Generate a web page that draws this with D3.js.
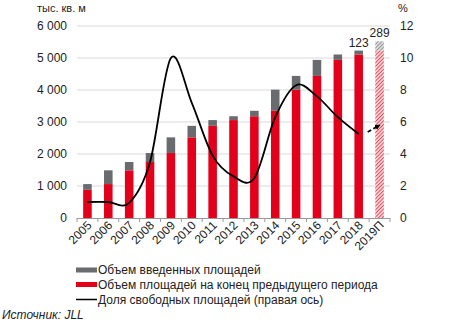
<!DOCTYPE html>
<html><head><meta charset="utf-8">
<script src="https://cdn.jsdelivr.net/npm/d3@7"></script>
<style>
html,body{margin:0;padding:0;background:#fff;}
svg{display:block;font-family:"Liberation Sans",Arial,sans-serif;}
</style></head>
<body>
<svg id="c" width="449" height="325"></svg>
<script>
const years = ["2005","2006","2007","2008","2009","2010","2011","2012","2013","2014","2015","2016","2017","2018","2019П"];
const prevStock = [880,1060,1490,1750,2030,2520,2880,3060,3180,3350,4010,4440,4940,5110,5233];
const newSupply = [180,430,260,280,490,360,180,120,170,660,430,500,170,123,289];
const vacancy = [1.0,1.0,0.95,3.5,10.0,7.2,3.9,2.6,2.5,6.3,8.3,7.6,6.3,5.25,5.8];
const forecastYear = "2019П";
const labeledYears = ["2018","2019П"];
const leftTicks = [0,1000,2000,3000,4000,5000,6000];
const rightTicks = [0,2,4,6,8,10,12];
const legendLabels = ["Объем введенных площадей","Объем площадей на конец предыдущего периода","Доля свободных площадей (правая ось)"];
const leftTitle = "тыс. кв. м";
const rightTitle = "%";
const source = "Источник: JLL";

const RED = "#e2001a", GRAY = "#6a6b6e", GRID = "#d9d9d9";
const svg = d3.select("#c");
const x = d3.scaleBand().domain(years).range([77,390]).paddingInner(0.59).paddingOuter(0.295);
const yL = d3.scaleLinear().domain([0,6000]).range([218,26]);
const yR = d3.scaleLinear().domain([0,12]).range([218,26]);

const defs = svg.append("defs");
function hatch(id,bg,fg){
  const p = defs.append("pattern").attr("id",id).attr("patternUnits","userSpaceOnUse")
    .attr("width",2.6).attr("height",2.6).attr("patternTransform","rotate(45)");
  p.append("rect").attr("width",2.6).attr("height",2.6).attr("fill",bg);
  p.append("line").attr("x1",0).attr("y1",0).attr("x2",0).attr("y2",2.6).attr("stroke",fg).attr("stroke-width",1.2);
}
hatch("hRed","#f8d3d6",RED);
hatch("hGray","#dcdcdc","#6a6b6e");
defs.append("marker").attr("id","arr").attr("viewBox","0 0 10 10").attr("refX",8).attr("refY",5)
  .attr("markerWidth",3.5).attr("markerHeight",3.5).attr("orient","auto")
  .append("path").attr("d","M0,0L10,5L0,10z").attr("fill","#000");

// gridlines
svg.append("g").selectAll("line").data(leftTicks.filter(d=>d>0)).join("line")
  .attr("x1",77).attr("x2",390).attr("y1",d=>yL(d)).attr("y2",d=>yL(d))
  .attr("stroke",GRID).attr("stroke-width",1);

// left axis labels
svg.append("g").selectAll("text").data(leftTicks).join("text")
  .attr("x",67).attr("y",d=>yL(d)+4.3).attr("text-anchor","end")
  .attr("font-size",12).attr("fill","#222")
  .text(d=>d===0?"0":d3.format(",")(d).replace(","," "));
// right axis labels
svg.append("g").selectAll("text").data(rightTicks).join("text")
  .attr("x",400).attr("y",d=>yR(d)+4.3).attr("text-anchor","start")
  .attr("font-size",12).attr("fill","#222").text(d=>d);
svg.append("text").attr("x",37).attr("y",11.5).attr("font-size",11).attr("fill","#222").text(leftTitle);
svg.append("text").attr("x",398).attr("y",12).attr("font-size",11).attr("fill","#222").text(rightTitle);

// bars
const bw = x.bandwidth();
const g = svg.append("g");
years.forEach((yr,i)=>{
  const f = yr===forecastYear;
  g.append("rect").attr("x",x(yr)).attr("width",bw)
    .attr("y",yL(prevStock[i])).attr("height",yL(0)-yL(prevStock[i]))
    .attr("fill",f?"url(#hRed)":RED);
  g.append("rect").attr("x",x(yr)).attr("width",bw)
    .attr("y",yL(prevStock[i]+newSupply[i])).attr("height",yL(prevStock[i])-yL(prevStock[i]+newSupply[i]))
    .attr("fill",f?"url(#hGray)":GRAY);
  if(labeledYears.includes(yr)){
    svg.append("text").attr("x",x(yr)+bw/2).attr("y",yL(prevStock[i]+newSupply[i])-4)
      .attr("text-anchor","middle").attr("font-size",12).attr("fill","#222").text(newSupply[i]);
  }
});

// bottom axis
svg.append("line").attr("x1",77).attr("x2",390).attr("y1",218.5).attr("y2",218.5).attr("stroke","#999");
const step = x.step();
const bounds = years.map(yr=>x(yr)-(step-bw)/2).concat([390]);
svg.append("g").selectAll("line").data(bounds).join("line")
  .attr("x1",d=>d).attr("x2",d=>d).attr("y1",218).attr("y2",222).attr("stroke","#999");
svg.append("g").selectAll("text").data(years).join("text")
  .attr("transform",d=>`translate(${x(d)+bw/2+5},${226}) rotate(-45)`)
  .attr("text-anchor","end").attr("font-size",12).attr("fill","#222").text(d=>d);

// vacancy line
const pts = years.map((yr,i)=>[x(yr)+bw/2, yR(vacancy[i])]);
const solid = pts.slice(0,years.length-1);
svg.append("path").attr("d",d3.line().curve(d3.curveCardinal.tension(0))(solid))
  .attr("fill","none").attr("stroke","#000").attr("stroke-width",1.8);
const dp = pts.slice(years.length-2);
svg.append("path").attr("d",d3.line()([[dp[0][0]+9,dp[0][1]-2],dp[1]]))
  .attr("fill","none").attr("stroke","#000").attr("stroke-width",1.6)
  .attr("stroke-dasharray","4,2.5").attr("marker-end","url(#arr)");

// legend
const lg = svg.append("g");
const ly = [270,284.5,299.5];
lg.append("rect").attr("x",76).attr("y",ly[0]-2.5).attr("width",21).attr("height",5).attr("fill",GRAY);
lg.append("rect").attr("x",76).attr("y",ly[1]-2.5).attr("width",21).attr("height",5).attr("fill",RED);
lg.append("line").attr("x1",76).attr("x2",97).attr("y1",ly[2]).attr("y2",ly[2]).attr("stroke","#000").attr("stroke-width",1.5);
lg.selectAll("text").data(legendLabels).join("text")
  .attr("x",98).attr("y",(d,i)=>ly[i]+4.3).attr("font-size",12).attr("fill","#222").text(d=>d);

svg.append("text").attr("x",2).attr("y",318.5).attr("font-size",12).attr("font-style","italic").attr("fill","#222").text(source);
</script>
</body></html>
